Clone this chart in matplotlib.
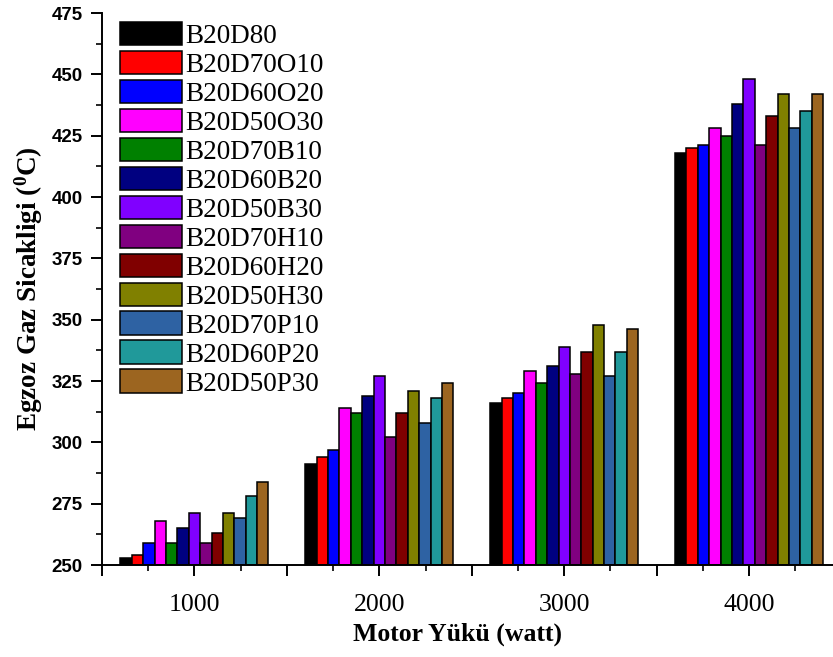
import numpy as np
import matplotlib
matplotlib.use("Agg")
import matplotlib.pyplot as plt
from matplotlib.ticker import FixedLocator, MultipleLocator, FuncFormatter

loads = [1000, 2000, 3000, 4000]
fuels = ["B20D80", "B20D70O10", "B20D60O20", "B20D50O30", "B20D70B10",
         "B20D60B20", "B20D50B30", "B20D70H10", "B20D60H20", "B20D50H30",
         "B20D70P10", "B20D60P20", "B20D50P30"]
colors = ["#000000", "#FF0000", "#0000FF", "#FF00FF", "#008000", "#000080",
          "#8000FF", "#800080", "#800000", "#808000", "#2E62A3", "#20999A",
          "#9C6520"]
# exhaust gas temperature per fuel, one value per load
temps = [
    [253, 291, 316, 418],
    [254, 294, 318, 420],
    [259, 297, 320, 421],
    [268, 314, 329, 428],
    [259, 312, 324, 425],
    [265, 319, 331, 438],
    [271, 327, 339, 448],
    [259, 302, 328, 421],
    [263, 312, 337, 433],
    [271, 321, 348, 442],
    [269, 308, 327, 428],
    [278, 318, 337, 435],
    [284, 324, 346, 442],
]

fig = plt.figure(figsize=(8.33, 6.57), dpi=100)
ax = fig.add_axes([102 / 833, 92 / 657, 731 / 833, 552 / 657])

n = len(fuels)
w = 800 / n
x = np.array(loads, dtype=float)
for i, (name, c) in enumerate(zip(fuels, colors)):
    off = (i - (n - 1) / 2) * w
    ax.bar(x + off, np.array(temps[i]) - 250, bottom=250, width=w, color=c,
           edgecolor="black", linewidth=1.1, label=name)

ax.set_xlim(500, 4454)
ax.set_ylim(250, 475)
ax.spines["top"].set_visible(False)
ax.spines["right"].set_visible(False)
for s in ["left", "bottom"]:
    ax.spines[s].set_linewidth(1.4)

ax.xaxis.set_major_locator(FixedLocator(np.arange(500, 4501, 500)))
ax.xaxis.set_minor_locator(MultipleLocator(250))
ax.xaxis.set_major_formatter(FuncFormatter(lambda v, p: "%d" % v if v % 1000 == 0 else ""))
ax.yaxis.set_major_locator(MultipleLocator(25))
ax.yaxis.set_minor_locator(MultipleLocator(12.5))
ax.tick_params(which="major", direction="out", length=8, width=1.4)
ax.tick_params(which="minor", direction="out", length=4, width=1.2)
ax.tick_params(axis="x", pad=13)
ax.tick_params(axis="y", pad=6)

for lab in ax.get_xticklabels():
    lab.set_fontfamily("Liberation Serif")
    lab.set_fontsize(18.5)
for lab in ax.get_yticklabels():
    lab.set_fontfamily("Liberation Sans")
    lab.set_fontweight("bold")
    lab.set_fontsize(13.5)

ax.set_xlabel("Motor Yükü (watt)", fontfamily="Liberation Serif",
              fontweight="bold", fontsize=18.5)
ax.set_ylabel("Egzoz Gaz Sicakligi ($\\mathregular{^{0}}$C)",
              fontfamily="Liberation Serif", fontweight="bold", fontsize=19.5)
ax.yaxis.set_label_coords(-0.078, 0.5)
ax.xaxis.set_label_coords(0.487, -0.105)

leg = ax.legend(loc="upper left", bbox_to_anchor=(0.0246, 0.984), frameon=False,
                prop={"family": "Liberation Serif", "size": 19.5},
                borderpad=0, borderaxespad=0, handlelength=2.29,
                handleheight=0.96, handletextpad=0.12, labelspacing=0.07)

fig.savefig("out.png", dpi=100)
